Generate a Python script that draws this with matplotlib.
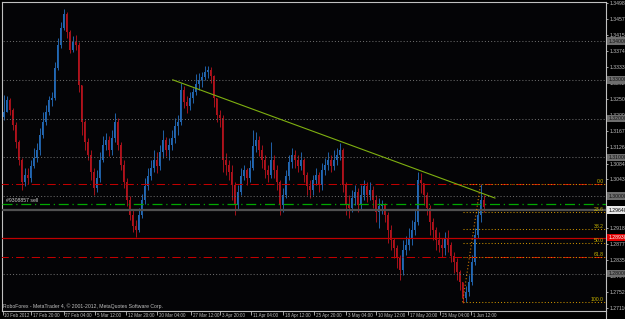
import numpy as np
import matplotlib
matplotlib.use('Agg')
import matplotlib.pyplot as plt
import matplotlib.lines as mlines
import matplotlib.transforms as transforms
from matplotlib import font_manager

# EURUSD, one candle per 12 hours, prices in 1/10000
firstOpen = 13205
closePips = [
	13217, 13248, 13222, 13184, 13140, 13093, 13036, 13055, 13047, 13078,
	13098, 13119, 13158, 13191, 13217, 13248, 13253, 13331, 13390, 13434,
	13470, 13423, 13377, 13398, 13390, 13287, 13191, 13140, 13106, 13062,
	13021, 13047, 13093, 13132, 13145, 13119, 13150, 13191, 13132, 13080,
	13036, 12990, 12951, 12923, 12913, 12951, 12990, 13026, 13052, 13073,
	13093, 13078, 13114, 13145, 13119, 13132, 13150, 13181, 13191, 13274,
	13243, 13233, 13253, 13269, 13289, 13300, 13307, 13320, 13325, 13310,
	13253, 13209, 13202, 13093, 13080, 13062, 13029, 12977, 13011, 13052,
	13067, 13047, 13073, 13129, 13145, 13119, 13093, 13067, 13055, 13093,
	13067, 13036, 12977, 13003, 13052, 13088, 13106, 13093, 13078, 13093,
	13055, 13026, 13016, 13042, 13055, 13029, 13067, 13080, 13093, 13078,
	13093, 13106, 13119, 13029, 12977, 12969, 12995, 13011, 12977, 13003,
	13026, 13003, 13016, 12990, 12959, 12974, 12977, 12951, 12913, 12887,
	12866, 12840, 12809, 12861, 12874, 12892, 12913, 12933, 13042, 13034,
	13003, 12969, 12933, 12913, 12887, 12874, 12866, 12892, 12874, 12846,
	12830, 12804, 12778, 12737, 12753, 12778, 12830, 12900, 12951, 12990,
	12972]
highPips = [
	13261, 13258, 13253, 13227, 13191, 13145, 13098, 13073, 13073, 13093,
	13124, 13137, 13176, 13217, 13235, 13258, 13269, 13346, 13408, 13449,
	13483, 13475, 13429, 13413, 13416, 13398, 13287, 13196, 13150, 13119,
	13073, 13067, 13114, 13155, 13163, 13155, 13171, 13215, 13202, 13140,
	13093, 13047, 13000, 12964, 12938, 12969, 13005, 13047, 13073, 13093,
	13119, 13114, 13132, 13171, 13152, 13150, 13171, 13202, 13209, 13292,
	13284, 13258, 13269, 13279, 13315, 13318, 13320, 13336, 13336, 13333,
	13312, 13253, 13222, 13209, 13111, 13093, 13080, 13036, 13029, 13073,
	13080, 13073, 13093, 13171, 13165, 13155, 13132, 13106, 13080, 13140,
	13106, 13080, 13042, 13021, 13067, 13106, 13124, 13119, 13106, 13114,
	13098, 13062, 13042, 13055, 13073, 13062, 13086, 13098, 13114, 13106,
	13119, 13124, 13137, 13124, 13036, 13003, 13016, 13029, 13021, 13029,
	13042, 13036, 13036, 13026, 13003, 12995, 12990, 12982, 12959, 12926,
	12892, 12874, 12848, 12887, 12897, 12918, 12938, 12964, 13062, 13060,
	13034, 13011, 12977, 12944, 12920, 12907, 12892, 12907, 12913, 12882,
	12856, 12840, 12809, 12778, 12768, 12797, 12848, 12918, 12964, 13031,
	13003]
lowPips = [
	13196, 13217, 13209, 13171, 13124, 13080, 13016, 13026, 13031, 13036,
	13073, 13088, 13106, 13150, 13184, 13209, 13233, 13248, 13325, 13382,
	13429, 13408, 13369, 13372, 13377, 13269, 13158, 13119, 13093, 13042,
	13003, 13011, 13036, 13088, 13119, 13104, 13106, 13140, 13119, 13067,
	13021, 12974, 12938, 12907, 12895, 12907, 12944, 12980, 13016, 13042,
	13062, 13060, 13067, 13098, 13104, 13093, 13119, 13137, 13158, 13184,
	13227, 13215, 13222, 13240, 13261, 13274, 13282, 13300, 13305, 13292,
	13230, 13191, 13178, 13062, 13055, 13042, 12990, 12951, 12964, 13003,
	13042, 13029, 13036, 13067, 13114, 13104, 13073, 13047, 13036, 13047,
	13047, 13016, 12951, 12959, 12995, 13042, 13073, 13073, 13062, 13067,
	13036, 13003, 12995, 13003, 13029, 13011, 13016, 13055, 13067, 13062,
	13067, 13080, 13093, 13011, 12951, 12944, 12959, 12977, 12959, 12964,
	12990, 12985, 12990, 12969, 12933, 12918, 12954, 12933, 12879, 12861,
	12840, 12815, 12784, 12797, 12848, 12861, 12874, 12900, 12926, 13008,
	12977, 12951, 12900, 12887, 12861, 12856, 12843, 12848, 12856, 12830,
	12802, 12784, 12758, 12724, 12727, 12742, 12771, 12822, 12892, 12933,
	12959]

priceTicks = [1.34980, 1.34570, 1.34150, 1.33740, 1.33330, 1.32920, 1.32500, 1.32090, 1.31670, 1.31260,
	1.30840, 1.30430, 1.30010, 1.29600, 1.29180, 1.28770, 1.28350, 1.27940, 1.27520, 1.27110]
dateLabels = ['10 Feb 2012', '17 Feb 20:00', '27 Feb 04:00', '5 Mar 12:00', '12 Mar 20:00', '20 Mar 04:00',
	'27 Mar 12:00', '3 Apr 20:00', '11 Apr 04:00', '18 Apr 12:00', '25 Apr 20:00', '3 May 04:00',
	'10 May 12:00', '17 May 20:00', '25 May 04:00', '1 Jun 12:00']
dateTicks = [-0.3, 9.3, 20.0, 30.5, 40.8, 51.2, 62.5, 72.2, 82.5, 93.2, 103.5, 114.2, 124.2, 134.9, 145.5, 155.9]

greyLevels = [1.3400, 1.3300, 1.3200, 1.3100, 1.3000, 1.2800]
redDashLevels = [1.3031, 1.2843]
orderLevel = 1.2980
orderLabel = '#9308857 sell'
greyLevel = 1.2964
bidLevel = 1.2893

trendIdx = [56.4, 163.8]
trendPrice = [1.3300, 1.2995]

fibIdx = [153, 159]
fibPrice = [1.2726, 1.3031]
fibRatios = [0.0, 23.6, 38.2, 50.0, 61.8, 100.0]

copyright = 'RoboForex - MetaTrader 4, \u00a9 2001-2012, MetaQuotes Software Corp.'

BG = '#040406'
FG = '#c0c0c0'
UP = '#2268b4'
DOWN = '#b0121c'

def pickFont():
	names = {f.name for f in font_manager.fontManager.ttflist}
	if 'Liberation Sans Narrow' in names:
		return 'Liberation Sans Narrow', 4.4, 4.0
	return 'Liberation Sans', 3.7, 3.25

def plotCandles(ax):
	closes = np.array(closePips) / 10000
	opens = np.array([firstOpen] + closePips[:-1]) / 10000
	highs = np.maximum(np.array(highPips) / 10000, np.maximum(opens, closes))
	lows = np.minimum(np.array(lowPips) / 10000, np.minimum(opens, closes))
	idx = np.arange(len(closes))
	colors = [UP if c >= o else DOWN for o, c in zip(opens, closes)]
	ax.vlines(idx, lows, highs, colors = colors, linewidth = 0.65, zorder = 2)
	ax.bar(idx, np.maximum(np.abs(closes - opens), 0.00008), bottom = np.minimum(opens, closes),
		width = 0.55, color = colors, linewidth = 0, zorder = 2)

def plotObjects(ax, fs, font):
	xmax = ax.get_xlim()[1]
	dotted = (0, (1, 2))
	dashdot = (0, (8, 3, 1, 3))
	ax.hlines(greyLevels, -1, xmax, colors = '#6a6a6a', linewidth = 0.75, linestyles = [dotted], zorder = 3)
	ax.hlines(redDashLevels, -1, xmax, colors = '#c00000', linewidth = 0.75, linestyles = [dashdot], zorder = 3)
	ax.axhline(orderLevel, color = '#00a800', linewidth = 0.9, linestyle = dashdot, zorder = 3)
	ax.axhline(greyLevel, color = '#505050', linewidth = 1.6, zorder = 3)
	ax.axhline(bidLevel, color = '#c00000', linewidth = 0.9, zorder = 3)
	ax.text(0.8, orderLevel + 0.0001, orderLabel, color = '#d0d0d0', fontsize = fs, family = font,
		va = 'bottom', ha = 'left', zorder = 4)

	ax.plot(trendIdx, trendPrice, color = '#7fb010', linewidth = 0.8, zorder = 4)

	ax.plot(fibIdx, fibPrice, color = '#d07800', linewidth = 0.8, linestyle = (0, (1, 2)), zorder = 4)
	span = fibPrice[1] - fibPrice[0]
	for r in fibRatios:
		level = fibPrice[1] - r / 100 * span
		ax.hlines(level, fibIdx[0], xmax, colors = '#c89000', linewidth = 0.75, linestyles = [dotted], zorder = 4)
		ax.text(xmax - 0.7, level + 0.00012, '%.1f' % r, color = '#c8b400', fontsize = fs, family = font,
			ha = 'right', va = 'bottom', zorder = 4)

def priceBox(ax, price, text, face, color, fs, font):
	blend = transforms.blended_transform_factory(ax.transAxes, ax.transData)
	ax.text(1.0 + 2.5 / 604, price, text, transform = blend, fontsize = fs, family = font, color = color,
		ha = 'left', va = 'center', clip_on = False, zorder = 6,
		bbox = dict(boxstyle = 'square,pad=0.25', facecolor = face, edgecolor = 'none'))

def setAxes(fig, ax, fs, dateFs, font):
	ax.set_facecolor(BG)
	ax.set_xlim(-0.5, 200.8)
	ax.set_ylim(1.27036, 1.35008)
	for spine in ax.spines.values():
		spine.set_color(FG)
		spine.set_linewidth(0.8)

	ax.yaxis.tick_right()
	ax.set_yticks(priceTicks)
	ax.set_yticklabels(['%.5f' % p for p in priceTicks], family = font)
	ax.tick_params(axis = 'y', length = 1.6, width = 0.6, colors = FG, labelsize = fs, pad = 0.8)

	ax.set_xticks(dateTicks)
	ax.set_xticklabels(dateLabels, family = font)
	ax.tick_params(axis = 'x', length = 3, width = 0.6, colors = FG, labelsize = dateFs, pad = 0)
	shift = transforms.ScaledTranslation(1.6 / 100, 2.6 / 100, fig.dpi_scale_trans)
	for label in ax.get_xticklabels():
		label.set_horizontalalignment('left')
		label.set_transform(label.get_transform() + shift)

	for level in greyLevels:
		priceBox(ax, level, '%.5f' % level, '#6e6e6e', '#101010', fs, font)
	priceBox(ax, greyLevel, '%.5f' % greyLevel, '#e8e8e8', '#000000', fs, font)
	priceBox(ax, bidLevel, '%.5f' % bidLevel, '#e00000', '#ffffff', fs, font)

	ax.text(0.002, 0.007, copyright, transform = ax.transAxes, color = FG, fontsize = fs, family = font,
		ha = 'left', va = 'bottom', zorder = 6)
	fig.add_artist(mlines.Line2D([606 / 625, 606 / 625], [0, 8 / 319], color = FG, linewidth = 0.8))

def main():
	font, fs, dateFs = pickFont()
	fig = plt.figure(figsize = (6.25, 3.19), dpi = 100, facecolor = '#000000')
	ax = fig.add_axes([2 / 625, 8 / 319, 604 / 625, 309 / 319])
	setAxes(fig, ax, fs, dateFs, font)
	plotCandles(ax)
	plotObjects(ax, fs, font)
	fig.savefig('out.png', dpi = 100, facecolor = fig.get_facecolor())
	return 0

if __name__ == '__main__':
	main()
